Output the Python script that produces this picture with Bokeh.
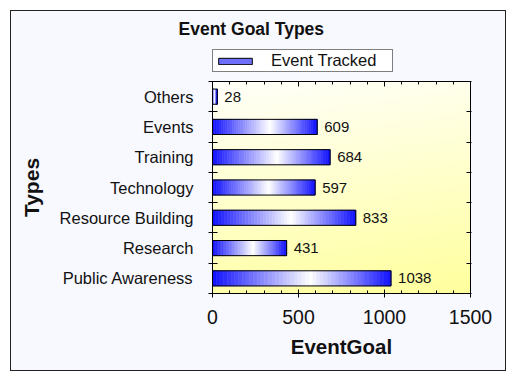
import numpy as np
from bokeh.plotting import figure
from bokeh.layouts import column
from bokeh.models import ColumnDataSource, FixedTicker, LinearAxis, Range1d, Legend, LegendItem
from bokeh.core.properties import value
from bokeh.embed import file_html
from bokeh.resources import INLINE

# ---- data ----
categories = ["Public Awareness", "Research", "Resource Building", "Technology",
              "Training", "Events", "Others"]
event_goal = [1038, 431, 833, 597, 684, 609, 28]
x_ticks = [0, 500, 1000, 1500]
x_minor_step = 100
series_name = "Event Tracked"
title_text = "Event Goal Types"
x_title = "EventGoal"
y_title = "Types"

FONT = "Liberation Sans"
BG = "#f8f8ff"
n = len(categories)
centers = [i + 0.5 for i in range(n)]
bounds = list(range(n + 1))
x_max = x_ticks[-1]
minor = list(range(x_ticks[0], x_max + 1, x_minor_step))

# ---------------- header: title + legend ----------------
head = figure(width=494, height=61, x_range=Range1d(0, x_max), y_range=Range1d(100, 101),
              x_axis_type=None, y_axis_type=None, output_backend="svg",
              toolbar_location=None, min_border=0, min_border_top=31,
              outline_line_color=None,
              background_fill_color=BG, border_fill_color=BG)
swatch = head.hbar(y=centers, left=0, right=event_goal, height=0.5,
                   fill_color="#7070ff", line_color="black", line_width=1)
legend = Legend(items=[LegendItem(label=series_name, renderers=[swatch])],
                location=(0, 0), orientation="horizontal",
                glyph_width=42, glyph_height=8, label_standoff=15, padding=1,
                margin=0, label_width=120, label_height=15,
                border_line_color="black", border_line_width=1,
                background_fill_color="white", background_fill_alpha=1,
                label_text_font=FONT, label_text_font_size="16.5px",
                label_text_color="#111111")
head.add_layout(legend, "center")
head.title.text = title_text
head.title.align = "left"
head.title.offset = -34
head.title.text_font = FONT
head.title.text_font_size = "17.5px"
head.title.text_font_style = "bold"
head.title.text_color = "#111111"
head.title.standoff = 8

# ---------------- main chart ----------------
p = figure(width=494, height=298, x_range=Range1d(0, x_max), y_range=Range1d(0, n),
           output_backend="svg", toolbar_location=None,
           min_border_left=201, min_border_right=35, min_border_bottom=77, min_border_top=9,
           background_fill_color="#fffff0", border_fill_color=BG,
           outline_line_color="black", outline_line_width=1)
p.xgrid.visible = False
p.ygrid.visible = False

# background gradient of the plot area
ny, nx = 120, 120
yy, xx = np.mgrid[0:1:ny * 1j, 0:1:nx * 1j]
t = 0.85 * (1 - yy) + 0.15 * xx
img = np.empty((ny, nx), dtype=np.uint32)
view = img.view(dtype=np.uint8).reshape((ny, nx, 4))
view[..., 0] = 255
view[..., 1] = 255
view[..., 2] = (250 - t * 92).astype(np.uint8)
view[..., 3] = 255
p.image_rgba(image=[img], x=p.x_range.start, y=p.y_range.start,
             dw=p.x_range.end - p.x_range.start, dh=p.y_range.end - p.y_range.start)

# bars with a blue-white-blue gradient along their length
N = 48
lefts, rights, ys, cols = [], [], [], []
for yc, v in zip(centers, event_goal):
    for i in range(N):
        f = (i + 0.5) / N
        c = 0.55
        w = 1 - (c - f) / c if f < c else 1 - (f - c) / (1 - c)
        w = 0.06 + 0.94 * w
        g = int(round(255 * w))
        cols.append("#%02x%02xff" % (g, g))
        lefts.append(v * i / N)
        rights.append(v * (i + 1) / N)
        ys.append(yc)
seg = ColumnDataSource(dict(left=lefts, right=rights, y=ys, color=cols))
p.hbar(y="y", left="left", right="right", height=0.5, fill_color="color",
       line_color="color", line_width=0.6, source=seg)
p.hbar(y=centers, left=0, right=event_goal, height=0.5, fill_color=None,
       line_color="black", line_width=1)

p.text(x=event_goal, y=centers, text=[str(v) for v in event_goal], x_offset=7,
       text_baseline="middle", text_align="left", text_font=value(FONT),
       text_font_size="15px", text_color="#111111")

# axes
xa = p.xaxis[0]
xa.ticker = FixedTicker(ticks=x_ticks, minor_ticks=minor)
xa.major_tick_in = 4
xa.major_tick_out = 4
xa.minor_tick_in = 3
xa.minor_tick_out = 0
xa.major_label_standoff = 12
xa.major_label_text_font = FONT
xa.major_label_text_font_size = "19.5px"
xa.major_label_text_color = "#111111"
xa.axis_label = x_title
xa.axis_label_text_font = FONT
xa.axis_label_text_font_style = "bold"
xa.axis_label_text_font_size = "20.5px"
xa.axis_label_text_color = "#111111"
xa.axis_label_standoff = 8
xa.axis_line_color = "black"

ya = p.yaxis[0]
ya.ticker = FixedTicker(ticks=centers, minor_ticks=bounds)
ya.major_label_overrides = {c: lab for c, lab in zip(centers, categories)}
ya.major_tick_in = 0
ya.major_tick_out = 0
ya.minor_tick_in = 5
ya.minor_tick_out = 4
ya.major_label_standoff = 15
ya.major_label_text_font = FONT
ya.major_label_text_font_size = "16.5px"
ya.major_label_text_color = "#111111"
ya.axis_label = y_title
ya.axis_label_text_font = FONT
ya.axis_label_text_font_style = "bold"
ya.axis_label_text_font_size = "21px"
ya.axis_label_text_color = "#111111"
ya.axis_label_standoff = 14
ya.axis_line_color = "black"

top = LinearAxis(ticker=FixedTicker(ticks=x_ticks, minor_ticks=minor),
                 major_tick_in=5, major_tick_out=0, minor_tick_in=3, minor_tick_out=0,
                 major_label_overrides={t_: "" for t_ in x_ticks},
                 major_label_standoff=0, axis_line_color="black")
p.add_layout(top, "above")

right = LinearAxis(ticker=FixedTicker(ticks=bounds),
                   major_tick_in=4, major_tick_out=1, minor_tick_in=0, minor_tick_out=0,
                   major_label_overrides={b: "" for b in bounds},
                   major_label_standoff=0, axis_line_color="black")
p.add_layout(right, "right")

layout = column(head, p, spacing=0,
                styles={"margin-left": "10px", "margin-top": "10px",
                        "border": "1px solid #222222", "background-color": BG})

open("out.html", "w").write(file_html(layout, INLINE))
